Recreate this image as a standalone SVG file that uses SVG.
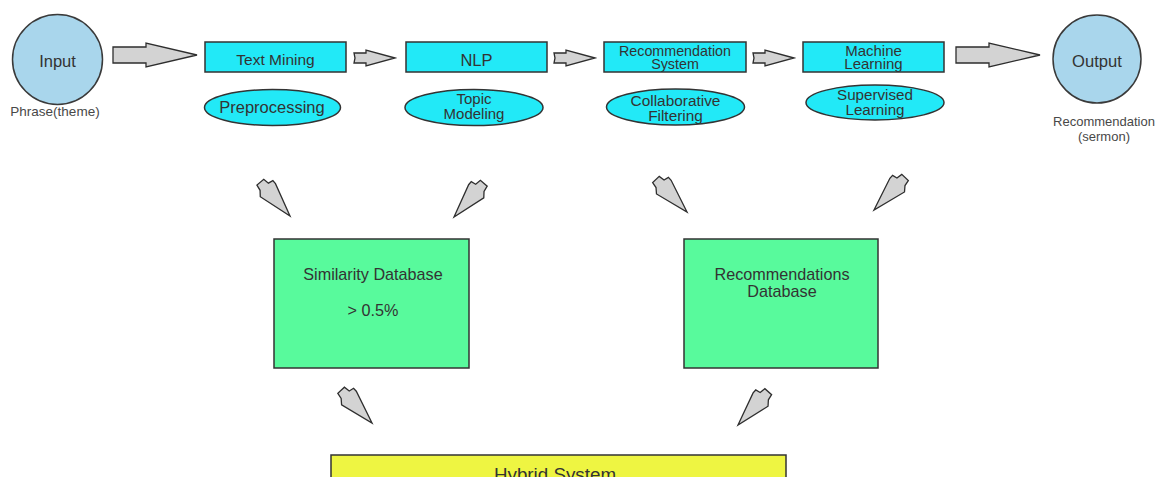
<svg xmlns="http://www.w3.org/2000/svg" width="1159" height="477" viewBox="0 0 1159 477">
  <defs>
    <style>
      .t { font-family: "Liberation Sans", Arial, sans-serif; fill: #333333; text-anchor: middle; }
      .lbl { font-family: "Liberation Sans", Arial, sans-serif; fill: #484848; text-anchor: middle; }
      .circ { fill: #A9D6EC; stroke: #3a3a3a; stroke-width: 1.5; }
      .box { fill: #22E9F7; stroke: #333333; stroke-width: 1.5; }
      .ell { fill: #22E9F7; stroke: #333333; stroke-width: 1.5; }
      .db { fill: #58FA9C; stroke: #333333; stroke-width: 1.5; }
      .hyb { fill: #EEF542; stroke: #333333; stroke-width: 1.5; }
      .arr { fill: #D3D3D3; stroke: #2e2e2e; stroke-width: 1.3; stroke-linejoin: miter; }
    </style>
    <path id="bigArrow" d="M0,0 L-51,-12 L-51,-8 L-84,-8 L-84,8 L-51,8 L-51,12 Z"/>
    <path id="smallArrow" d="M0,0 L-29,-8 L-29,-5 L-41,-5 L-40,0 L-41,5 L-29,5 L-29,8 Z"/>
    <path id="diagArrow" d="M0,0 L-34,-10 L-38,-10 L-39,-5 L-45,-4 L-45,5 L-39,6 L-34,10 Z"/>
  </defs>
  <rect x="0" y="0" width="1159" height="477" fill="#ffffff"/>

  <g id="connectors">
    <use href="#bigArrow" class="arr" transform="translate(197,55)"/>
    <use href="#smallArrow" class="arr" transform="translate(395,58)"/>
    <use href="#smallArrow" class="arr" transform="translate(595,58)"/>
    <use href="#smallArrow" class="arr" transform="translate(794,58)"/>
    <use href="#bigArrow" class="arr" transform="translate(1040,55)"/>
    <use href="#diagArrow" class="arr" transform="translate(290,216) rotate(49.4)"/>
    <use href="#diagArrow" class="arr" transform="translate(454,217) rotate(130.8) scale(1,-1)"/>
    <use href="#diagArrow" class="arr" transform="translate(687,212) rotate(47)"/>
    <use href="#diagArrow" class="arr" transform="translate(874,210) rotate(133) scale(1,-1)"/>
    <use href="#diagArrow" class="arr" transform="translate(372,423) rotate(47.3)"/>
    <use href="#diagArrow" class="arr" transform="translate(738,425) rotate(131.6) scale(1,-1)"/>
  </g>

  <g id="input">
    <circle class="circ" cx="57.5" cy="59.5" r="45"/>
    <text class="t" x="57.5" y="67" font-size="16.5">Input</text>
    <text class="lbl" x="55" y="116" font-size="13.5">Phrase(theme)</text>
  </g>

  <g id="text-mining">
    <rect class="box" x="205" y="42" width="141" height="30"/>
    <text class="t" x="275.5" y="65" font-size="15.5">Text Mining</text>
  </g>
  <g id="preprocessing">
    <ellipse class="ell" cx="272.5" cy="107.5" rx="68" ry="18"/>
    <text class="t" x="272" y="112.5" font-size="16.5">Preprocessing</text>
  </g>

  <g id="nlp">
    <rect class="box" x="406" y="42" width="141" height="30"/>
    <text class="t" x="476.5" y="66" font-size="16.5">NLP</text>
  </g>
  <g id="topic-modeling">
    <ellipse class="ell" cx="474" cy="107.5" rx="69" ry="18"/>
    <text class="t" x="474" y="103.5" font-size="15">Topic</text>
    <text class="t" x="474" y="119" font-size="15">Modeling</text>
  </g>

  <g id="recommendation-system">
    <rect class="box" x="604" y="42" width="142" height="30"/>
    <text class="t" x="675" y="55.5" font-size="14.3">Recommendation</text>
    <text class="t" x="675" y="69" font-size="14.3">System</text>
  </g>
  <g id="collaborative-filtering">
    <ellipse class="ell" cx="675.5" cy="107" rx="69" ry="18"/>
    <text class="t" x="675.5" y="105.5" font-size="15.4">Collaborative</text>
    <text class="t" x="675.5" y="121" font-size="15.4">Filtering</text>
  </g>

  <g id="machine-learning">
    <rect class="box" x="803" y="42" width="141" height="30"/>
    <text class="t" x="873.5" y="55.5" font-size="15">Machine</text>
    <text class="t" x="873.5" y="69" font-size="15">Learning</text>
  </g>
  <g id="supervised-learning">
    <ellipse class="ell" cx="875" cy="102.5" rx="69" ry="17.5"/>
    <text class="t" x="875" y="100" font-size="15.2">Supervised</text>
    <text class="t" x="875" y="115" font-size="15.2">Learning</text>
  </g>

  <g id="output">
    <circle class="circ" cx="1097" cy="59" r="44"/>
    <text class="t" x="1097" y="67" font-size="16.6">Output</text>
    <text class="lbl" x="1104" y="126" font-size="13">Recommendation</text>
    <text class="lbl" x="1104" y="141" font-size="13">(sermon)</text>
  </g>

  <g id="similarity-database">
    <rect class="db" x="274" y="239" width="195" height="129"/>
    <text class="t" x="373" y="280" font-size="16.2">Similarity Database</text>
    <text class="t" x="373" y="315.5" font-size="16.2">&gt; 0.5%</text>
  </g>

  <g id="recommendations-database">
    <rect class="db" x="684" y="239" width="194" height="129"/>
    <text class="t" x="782" y="280" font-size="16.2">Recommendations</text>
    <text class="t" x="782" y="297" font-size="16.2">Database</text>
  </g>

  <g id="hybrid-system">
    <rect class="hyb" x="331" y="455" width="455" height="40"/>
    <text class="t" x="555" y="480.5" font-size="18.8">Hybrid System</text>
  </g>
</svg>
